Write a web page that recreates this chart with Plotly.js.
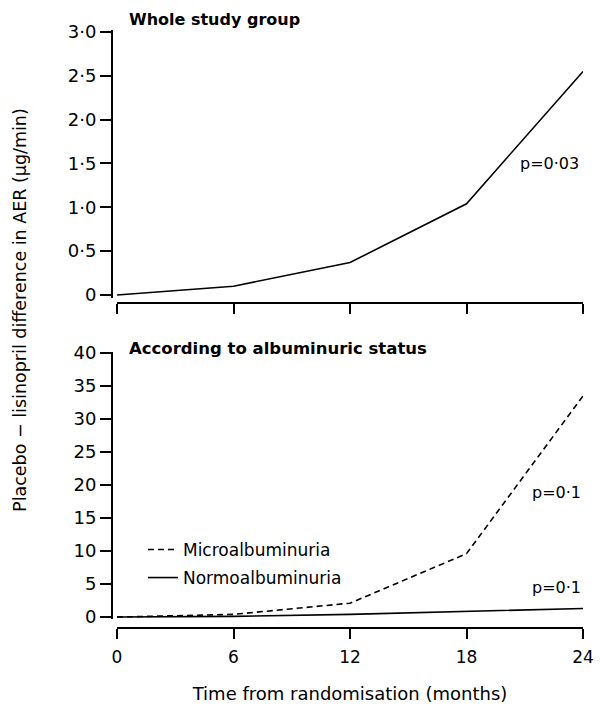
<!DOCTYPE html>
<html>
<head>
<meta charset="utf-8">
<script src="https://cdn.plot.ly/plotly-3.0.1.min.js"></script>
<style>html,body{margin:0;padding:0;background:#fff;}#chart{width:600px;height:706px;}</style>
</head>
<body>
<div id="chart"></div>
<script>
// Months from randomisation
const months = [0, 6, 12, 18, 24];
const monthLabels = ["0", "6", "12", "18", "24"];

// Placebo - lisinopril difference in AER (µg/min)
const wholeGroup = [0, 0.1, 0.37, 1.04, 2.55];
const microalbuminuria = [0, 0.4, 2.1, 9.6, 33.5];
const normoalbuminuria = [0, 0.1, 0.4, 0.8, 1.3];

// Tick labels
const topTickVals = [0, 0.5, 1, 1.5, 2, 2.5, 3];
const topTickText = ["0", "0·5", "1·0", "1·5", "2·0", "2·5", "3·0"];
const bottomTickVals = [0, 5, 10, 15, 20, 25, 30, 35, 40];
const bottomTickText = ["0", "5", "10", "15", "20", "25", "30", "35", "40"];

// Text
const topTitle = "Whole study group";
const bottomTitle = "According to albuminuric status";
const yTitle = "Placebo − lisinopril difference in AER (µg/min)";
const xTitle = "Time from randomisation (months)";
const pTop = "p=0·03";
const pMicro = "p=0·1";
const pNormo = "p=0·1";

const FONT = "DejaVu Sans, Arial, sans-serif";
const BOLD = "DejaVu Sans, Arial Black, sans-serif";

const traces = [
  {x: months, y: wholeGroup, xaxis: "x", yaxis: "y", mode: "lines", showlegend: false,
   line: {color: "#000", width: 1.6}, hoverinfo: "skip"},
  {x: months, y: microalbuminuria, xaxis: "x2", yaxis: "y2", mode: "lines", name: "Microalbuminuria",
   legend: "legend", line: {color: "#000", width: 1.6, dash: "6px,4px"}, hoverinfo: "skip"},
  {x: months, y: normoalbuminuria, xaxis: "x2", yaxis: "y2", mode: "lines", name: "Normoalbuminuria",
   legend: "legend2", line: {color: "#000", width: 1.6}, hoverinfo: "skip"}
];

const xCommon = {
  domain: [0.195, 0.9717], range: [0, 24], anchor: "free",
  showline: true, linecolor: "#000", linewidth: 2,
  ticks: "outside", ticklen: 10, tickwidth: 2, tickcolor: "#000",
  tickvals: months, ticktext: monthLabels,
  showgrid: false, zeroline: false, fixedrange: true,
  tickfont: {family: FONT, size: 17, color: "#000"}, ticklabelstandoff: 4
};
const yCommon = {
  anchor: "free", position: 0.1867,
  showline: true, linecolor: "#000", linewidth: 2,
  ticks: "outside", ticklen: 11, tickwidth: 2, tickcolor: "#000",
  showgrid: false, zeroline: false, fixedrange: true,
  tickfont: {family: FONT, size: 18, color: "#000"}
};

const layout = {
  width: 600, height: 706,
  margin: {l: 0, r: 0, t: 0, b: 0},
  paper_bgcolor: "#fff", plot_bgcolor: "#fff",
  showlegend: true,
  xaxis: Object.assign({}, xCommon, {position: 0.5708, showticklabels: false}),
  yaxis: Object.assign({}, yCommon, {domain: [0.5785, 0.9572], range: [-0.03, 3.02],
    tickvals: topTickVals, ticktext: topTickText}),
  xaxis2: Object.assign({}, xCommon, {position: 0.1105, showticklabels: true,
    title: {text: xTitle, font: {family: FONT, size: 18, color: "#000"}, standoff: 20}}),
  yaxis2: Object.assign({}, yCommon, {domain: [0.1232, 0.5014], range: [-0.3, 40.15],
    tickvals: bottomTickVals, ticktext: bottomTickText}),
  legend: {x: 0.2383, xanchor: "left", y: 0.221, yanchor: "middle",
    bgcolor: "rgba(0,0,0,0)", font: {family: FONT, size: 17, color: "#000"}},
  legend2: {x: 0.2383, xanchor: "left", y: 0.1813, yanchor: "middle",
    bgcolor: "rgba(0,0,0,0)", font: {family: FONT, size: 17, color: "#000"}},
  annotations: [
    {text: "<b>" + topTitle + "</b>", xref: "paper", yref: "paper", x: 0.2117, y: 0.9717,
     xanchor: "left", yanchor: "middle", showarrow: false, font: {family: BOLD, size: 16, color: "#000"}},
    {text: "<b>" + bottomTitle + "</b>", xref: "paper", yref: "paper", x: 0.2117, y: 0.507,
     xanchor: "left", yanchor: "middle", showarrow: false, font: {family: BOLD, size: 16.5, color: "#000"}},
    {text: yTitle, xref: "paper", yref: "paper", x: 0.0333, y: 0.561, textangle: -90,
     xanchor: "center", yanchor: "middle", showarrow: false, font: {family: FONT, size: 17.5, color: "#000"}},
    {text: pTop, xref: "x", yref: "y", x: 24, y: 1.5, xanchor: "right", yanchor: "middle",
     xshift: -2, showarrow: false, font: {family: FONT, size: 16, color: "#000"}},
    {text: pMicro, xref: "x2", yref: "y2", x: 24, y: 18.9, xanchor: "right", yanchor: "middle",
     showarrow: false, font: {family: FONT, size: 16, color: "#000"}},
    {text: pNormo, xref: "x2", yref: "y2", x: 24, y: 4.4, xanchor: "right", yanchor: "middle",
     showarrow: false, font: {family: FONT, size: 16, color: "#000"}}
  ]
};

Plotly.newPlot("chart", traces, layout, {staticPlot: true, displayModeBar: false});
</script>
</body>
</html>
